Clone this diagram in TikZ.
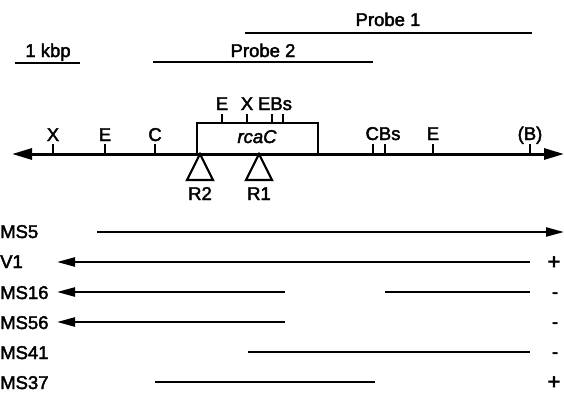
\documentclass[tikz,border=0pt]{standalone}
\usepackage{fontspec}
\setmainfont{Liberation Sans}
\newfontfamily\heavy[FakeBold=2.2]{Liberation Sans}
\usetikzlibrary{arrows.meta}
\tikzset{
  lab/.style={inner sep=0pt, anchor=base, font=\heavy\fontsize{18.5}{21}\selectfont},
  rowlab/.style={lab, anchor=base west},
  mainline/.style={line width=3pt},
  thin/.style={line width=2pt},
  rowline/.style={line width=2.3pt},
  bigtip/.tip={Triangle[length=20pt,width=11pt]},
  rowtip/.tip={Triangle[length=18pt,width=9pt]},
  tick/.style={line width=2pt},
  tri/.style={line width=2.2pt, line join=miter}
}
\begin{document}
\begin{tikzpicture}[x=1pt,y=-1pt]
\useasboundingbox (0,0) rectangle (564,396);
% probes and scale
\coordinate (p1a) at (245,33); \coordinate (p1b) at (532,33);
\draw[thin] (p1a) -- (p1b);
\node[lab] (p1) at (388,26) {Probe 1};
\coordinate (p2a) at (153,62); \coordinate (p2b) at (373,62);
\draw[thin] (p2a) -- (p2b);
\node[lab] (p2) at (263,57) {Probe 2};
\coordinate (ka) at (15,63); \coordinate (kb) at (80,63);
\draw[thin] (ka) -- (kb);
\node[lab] (kbp) at (48,57) {1 kbp};
% main map
\coordinate (L) at (12,154); \coordinate (R) at (564,154);
\draw[mainline, {bigtip}-{bigtip}] (L) -- (R);
% box
\coordinate (b1) at (197,154); \coordinate (b2) at (197,123);
\coordinate (b3) at (318,123); \coordinate (b4) at (318,154);
\draw[thin] (b1) -- (b2) -- (b3) -- (b4);
\node[lab, font=\heavy\fontsize{18.5}{21}\selectfont\itshape] (rca) at (257,143) {rcaC};
% ticks on main line
\foreach \x in {53,105,155,373,385,433,530} \draw[tick] (\x,154) -- (\x,144);
\node[lab] (tX) at (53,141) {X};
\node[lab] (tE) at (105,141) {E};
\node[lab] (tC) at (155,141) {C};
\node[lab] (tCBs) at (383,140) {CBs};
\node[lab] (tE2) at (433,140) {E};
\node[lab] (tB) at (530,140) {(B)};
% ticks on box
\foreach \x in {222,247,272,283} \draw[tick] (\x,123) -- (\x,114);
\node[lab] (bE) at (222,110) {E};
\node[lab] (bX) at (247,110) {X};
\node[lab] (bEBs) at (275,110) {EBs};
% triangles
\draw[tri] (200,154) -- (187,180) -- (213,180) -- cycle;
\draw[tri] (259,154) -- (246,180) -- (272,180) -- cycle;
\node[lab] (R2) at (200,200) {R2};
\node[lab] (R1) at (259,200) {R1};
% rows
\node[rowlab] (ms5) at (0,238) {MS5};
\node[rowlab] (v1) at (0,268) {V1};
\node[rowlab] (ms16) at (0,299) {MS16};
\node[rowlab] (ms56) at (0,329) {MS56};
\node[rowlab] (ms41) at (0,359) {MS41};
\node[rowlab] (ms37) at (0,389) {MS37};
\coordinate (r1a) at (97,232); \coordinate (r1b) at (564,232);
\draw[rowline, -{rowtip}] (r1a) -- (r1b);
\coordinate (r2a) at (57,262); \coordinate (r2b) at (530,262);
\draw[rowline, {rowtip}-] (r2a) -- (r2b);
\coordinate (r3a) at (57,292); \coordinate (r3b) at (285,292);
\draw[rowline, {rowtip}-] (r3a) -- (r3b);
\coordinate (r3c) at (385,292); \coordinate (r3d) at (530,292);
\draw[rowline] (r3c) -- (r3d);
\coordinate (r4a) at (57,322); \coordinate (r4b) at (285,322);
\draw[rowline, {rowtip}-] (r4a) -- (r4b);
\coordinate (r5a) at (248,352); \coordinate (r5b) at (530,352);
\draw[rowline] (r5a) -- (r5b);
\coordinate (r6a) at (155,382); \coordinate (r6b) at (375,382);
\draw[rowline] (r6a) -- (r6b);
% signs
\node[lab, font=\heavy\fontsize{22}{24}\selectfont] (s1) at (554,269) {+};
\node[lab] (s2) at (555,298) {-};
\node[lab] (s3) at (555,328) {-};
\node[lab] (s4) at (555,358) {-};
\node[lab, font=\heavy\fontsize{22}{24}\selectfont] (s5) at (554,389) {+};
\end{tikzpicture}
\end{document}
